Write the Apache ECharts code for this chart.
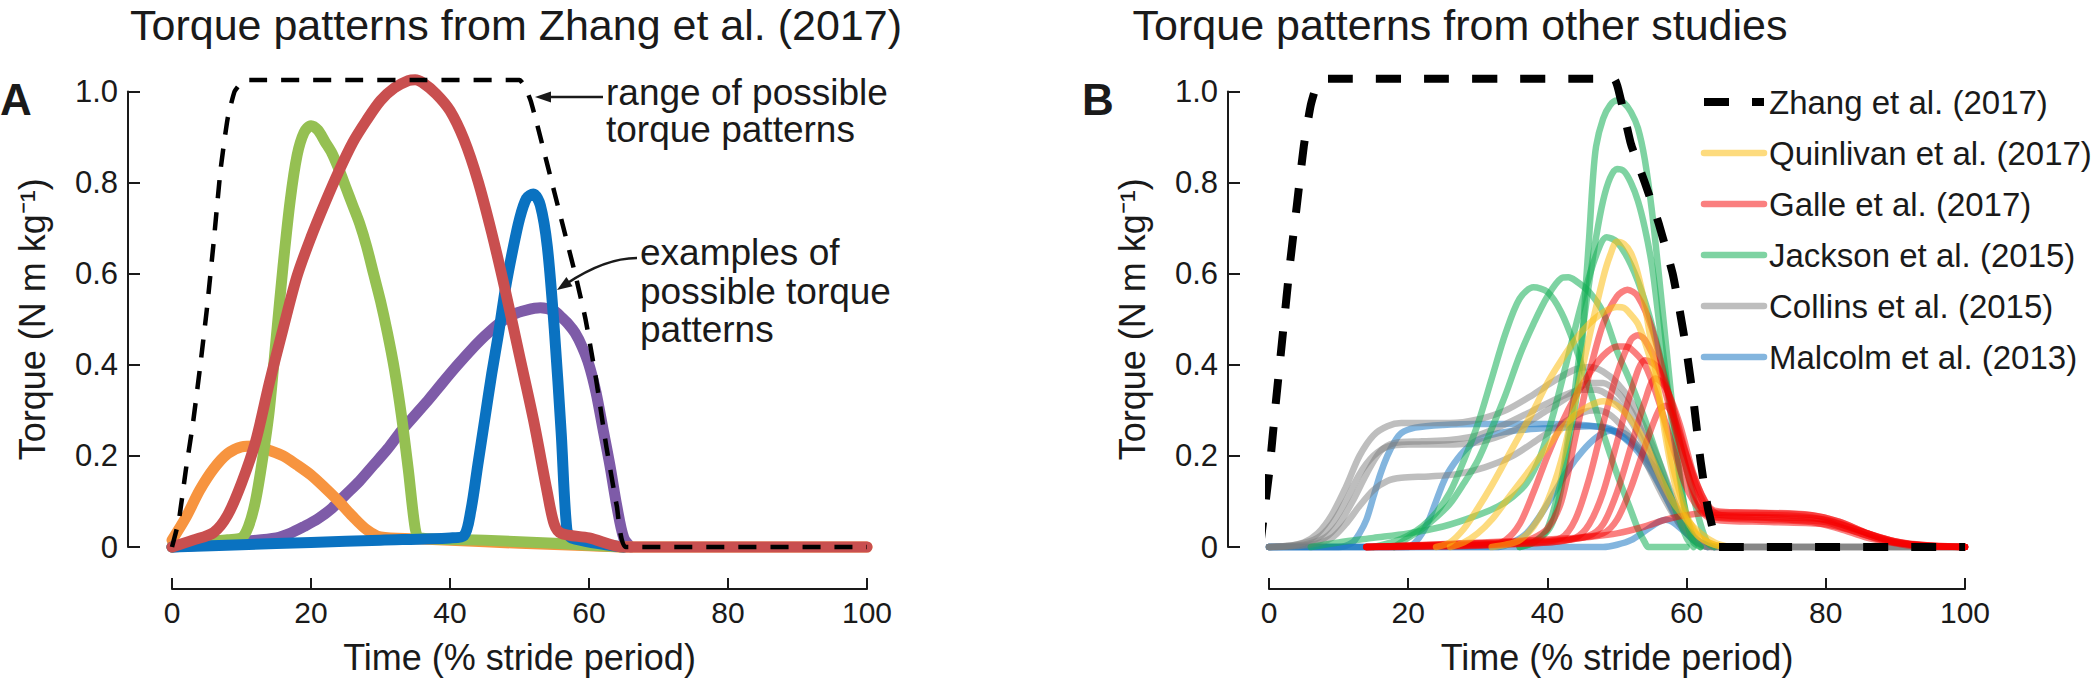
<!DOCTYPE html>
<html><head><meta charset="utf-8">
<script src="https://cdn.jsdelivr.net/npm/echarts@6/dist/echarts.min.js"></script>
<style>html,body{margin:0;padding:0;background:#fff}#c{width:2100px;height:687px}</style>
</head><body><div id="c"></div>
<script>
// ---------- tick values ----------
const xTicks = [0, 20, 40, 60, 80, 100];
const yTicks = [0, 0.2, 0.4, 0.6, 0.8, 1.0];

// ---------- Panel A: Zhang et al. (2017) ----------
const rangeA = [[0,0],[1,0.06],[2,0.17],[3,0.27],[4,0.39],[5,0.52],[6,0.67],[7,0.83],[8,0.94],[9,1.0],[10,1.02],[11,1.025],[50,1.025],[50.8,1.01],[51.6,0.98],[52.5,0.93],[54,0.84],[56,0.72],[58,0.6],[59.5,0.5],[61,0.37],[62.5,0.22],[64,0.09],[65.3,0],[100,0]];
const orangeA = [[0,0.015],[2,0.065],[4,0.125],[6,0.172],[8,0.205],[10,0.22],[12,0.222],[14,0.212],[16,0.2],[18,0.18],[20,0.158],[22,0.13],[24,0.1],[26,0.067],[28,0.038],[30,0.022],[35,0.018],[40,0.015],[50,0.008],[60,0.003],[65,0],[100,0]];
const greenA = [[0,0],[4,0.01],[8,0.016],[10,0.02],[11,0.045],[12,0.1],[13,0.19],[14,0.3],[15,0.46],[16,0.62],[17,0.76],[18,0.86],[19,0.91],[20,0.925],[21,0.915],[22,0.89],[23,0.865],[24,0.83],[25,0.79],[26,0.75],[27,0.71],[28,0.66],[29,0.6],[30,0.54],[31,0.47],[32,0.39],[33,0.29],[34,0.17],[35,0.04],[35.6,0.02],[45,0.015],[55,0.008],[65,0]];
const redA = [[0,0],[3,0.015],[6,0.032],[8,0.07],[10,0.14],[12,0.23],[14,0.36],[16,0.48],[18,0.595],[20,0.68],[22,0.755],[24,0.825],[26,0.888],[28,0.937],[30,0.98],[32,1.008],[34,1.024],[35,1.026],[36,1.02],[38,0.995],[40,0.958],[42,0.895],[44,0.805],[46,0.69],[48,0.56],[50,0.42],[52,0.28],[54,0.12],[55,0.05],[56,0.03],[60,0.02],[65,0],[100,0]];
const blueA = [[0,0],[10,0.005],[20,0.01],[30,0.015],[40,0.02],[42,0.025],[43,0.08],[44,0.18],[45,0.28],[46,0.38],[47,0.47],[48,0.57],[49,0.65],[50,0.72],[51,0.765],[52,0.775],[53,0.75],[54,0.66],[55,0.48],[56,0.25],[56.8,0.04],[57.5,0.02],[65,0]];
const purpleA = [[0,0],[5,0.005],[10,0.012],[15,0.02],[17,0.03],[19,0.045],[21,0.062],[23,0.085],[25,0.115],[27,0.145],[29,0.18],[31,0.215],[33,0.255],[35,0.29],[37,0.325],[39,0.362],[41,0.398],[43,0.432],[45,0.463],[47,0.49],[49,0.51],[51,0.52],[53,0.525],[55,0.518],[56,0.505],[57,0.49],[58,0.47],[59,0.44],[60,0.4],[61,0.34],[62,0.26],[63,0.18],[64,0.09],[65,0.02],[66,0]];

// ---------- Panel B: other studies ----------
const zhangB = [[-1.3,0],[0,0.16],[1,0.32],[2,0.47],[3,0.62],[4,0.75],[5,0.88],[6,0.97],[7,1.02],[8,1.028],[49.5,1.028],[50.5,0.985],[52,0.885],[54,0.8],[56,0.71],[58,0.6],[59,0.52],[60,0.43],[61,0.32],[62,0.19],[63,0.09],[64,0.025],[64.6,0],[100,0]];

const quin1 = [[32,0],[34,0.005],[36,0.015],[38,0.045],[40,0.1],[42,0.19],[44,0.32],[46,0.46],[48,0.59],[49,0.64],[50,0.67],[51,0.665],[52,0.645],[53,0.6],[54,0.53],[55,0.44],[56,0.34],[57,0.24],[58,0.16],[59,0.1],[60,0.06],[61,0.035],[62,0.02],[64,0.005],[66,0]];
const quin2 = [[24,0],[26,0.01],[28,0.04],[30,0.085],[32,0.135],[34,0.19],[36,0.245],[38,0.3],[40,0.36],[42,0.41],[44,0.455],[46,0.49],[48,0.515],[50,0.527],[51,0.525],[52,0.51],[53,0.49],[54,0.45],[55,0.4],[56,0.33],[57,0.26],[58,0.18],[59,0.12],[60,0.07],[61,0.04],[62,0.02],[64,0.005],[66,0]];
const quin3 = [[26,0],[28,0.01],[30,0.03],[32,0.06],[34,0.1],[36,0.14],[38,0.18],[40,0.22],[42,0.26],[44,0.29],[46,0.31],[48,0.32],[50,0.31],[52,0.28],[54,0.23],[56,0.16],[58,0.1],[60,0.06],[62,0.03],[64,0.01],[66,0]];

const galle1 = [[14,0],[20,0.003],[30,0.008],[36,0.012],[38,0.02],[40,0.04],[42,0.1],[44,0.24],[46,0.38],[48,0.49],[50,0.55],[51.5,0.565],[53,0.55],[55,0.48],[57,0.36],[59,0.23],[61,0.12],[63,0.07],[66,0.065],[70,0.065],[75,0.06],[80,0.055],[83,0.04],[86,0.025],[90,0.01],[95,0.002],[100,0]];
const galle2 = [[14,0],[30,0.005],[38,0.01],[42,0.02],[44,0.06],[46,0.15],[48,0.27],[50,0.38],[52,0.455],[53,0.465],[54,0.455],[56,0.39],[58,0.28],[60,0.17],[62,0.09],[64,0.065],[70,0.06],[78,0.055],[82,0.04],[86,0.02],[90,0.008],[94,0],[100,0]];
const galle3 = [[14,0],[32,0.005],[34,0.015],[36,0.05],[38,0.12],[40,0.2],[42,0.27],[44,0.33],[46,0.38],[48,0.42],[50,0.44],[51,0.44],[52,0.435],[54,0.4],[56,0.32],[58,0.22],[60,0.13],[62,0.08],[64,0.06],[72,0.055],[80,0.05],[84,0.035],[88,0.015],[92,0.005],[100,0]];
const galle4 = [[14,0],[40,0.01],[44,0.02],[46,0.05],[48,0.12],[50,0.23],[52,0.34],[54,0.41],[55,0.405],[56,0.39],[58,0.31],[60,0.2],[62,0.11],[64,0.07],[72,0.07],[78,0.065],[82,0.05],[86,0.03],[90,0.012],[94,0.003],[100,0]];
const galle5 = [[14,0],[42,0.015],[46,0.025],[48,0.05],[50,0.12],[52,0.22],[54,0.32],[55.5,0.37],[57,0.35],[59,0.27],[61,0.16],[63,0.09],[65,0.07],[74,0.065],[80,0.06],[84,0.04],[88,0.02],[92,0.006],[100,0]];
const galle6 = [[14,0],[44,0.02],[48,0.03],[50,0.06],[52,0.13],[54,0.22],[56,0.3],[57,0.31],[58,0.29],[60,0.2],[62,0.12],[64,0.08],[70,0.075],[78,0.07],[82,0.055],[86,0.03],[90,0.01],[100,0]];
const galle7 = [[14,0],[30,0.003],[40,0.01],[45,0.02],[50,0.03],[54,0.045],[57,0.06],[60,0.07],[64,0.075],[70,0.075],[78,0.07],[82,0.055],[86,0.03],[90,0.012],[95,0.003],[100,0]];

const jack1 = [[36,0],[38,0.01],[40,0.035],[41,0.065],[42,0.13],[43,0.22],[44,0.31],[45,0.45],[45.5,0.57],[46,0.68],[46.5,0.8],[47,0.88],[48,0.94],[49,0.97],[50,0.98],[51,0.975],[52,0.955],[53,0.92],[54,0.85],[55,0.74],[56,0.6],[57,0.45],[58,0.3],[59,0.16],[60,0.06],[61,0.01],[62,0]];
const jack2 = [[36,0],[38,0.01],[40,0.04],[42,0.15],[43,0.24],[44,0.35],[45,0.47],[46,0.58],[47,0.68],[48,0.76],[49,0.81],[50,0.83],[51,0.825],[52,0.8],[53,0.76],[54,0.7],[55,0.62],[56,0.5],[57,0.38],[58,0.26],[59,0.15],[60,0.07],[61,0.02],[62,0]];
const jack3 = [[6,0],[10,0.01],[15,0.02],[20,0.03],[25,0.045],[30,0.07],[33,0.09],[35,0.11],[37,0.14],[39,0.2],[41,0.3],[43,0.42],[45,0.54],[47,0.64],[48.5,0.68],[50,0.67],[52,0.62],[54,0.54],[56,0.43],[58,0.3],[60,0.17],[62,0.05],[63,0.01],[64,0]];
const jack4 = [[15,0],[18,0.012],[20,0.025],[22,0.045],[24,0.075],[26,0.12],[28,0.19],[30,0.27],[32,0.37],[34,0.47],[36,0.545],[38,0.57],[40,0.56],[42,0.515],[44,0.44],[46,0.35],[48,0.25],[50,0.16],[52,0.08],[53,0.04],[54,0.01],[54.5,0],[60,0]];
const jack5 = [[18,0],[20,0.02],[22,0.04],[24,0.065],[26,0.095],[28,0.14],[30,0.19],[32,0.26],[34,0.335],[36,0.42],[38,0.49],[40,0.55],[42,0.59],[43,0.592],[44,0.585],[46,0.56],[48,0.515],[50,0.43],[52,0.36],[54,0.28],[56,0.19],[58,0.1],[60,0.02],[61,0]];

const coll1 = [[0,0],[3,0.003],[5,0.01],[7,0.03],[9,0.07],[11,0.13],[13,0.2],[15,0.245],[17,0.265],[19,0.272],[22,0.272],[26,0.272],[30,0.28],[34,0.3],[38,0.335],[41,0.365],[44,0.39],[46,0.395],[48,0.385],[50,0.36],[52,0.32],[54,0.26],[56,0.19],[58,0.11],[60,0.04],[62,0.01],[64,0],[100,0]];
const coll2 = [[0,0],[5,0.005],[8,0.02],[10,0.05],[12,0.1],[14,0.16],[16,0.21],[18,0.228],[22,0.232],[26,0.235],[30,0.245],[34,0.27],[38,0.3],[42,0.33],[45,0.345],[47,0.345],[49,0.33],[51,0.3],[53,0.25],[55,0.19],[57,0.12],[59,0.06],[61,0.02],[63,0],[100,0]];
const coll3 = [[0,0],[6,0.005],[9,0.02],[11,0.05],[13,0.09],[15,0.125],[17,0.145],[19,0.152],[23,0.155],[27,0.16],[31,0.175],[35,0.2],[39,0.24],[42,0.27],[45,0.295],[47,0.3],[49,0.29],[51,0.26],[53,0.22],[55,0.16],[57,0.1],[59,0.05],[61,0.015],[63,0],[100,0]];
const coll4 = [[0,0],[4,0.005],[7,0.02],[9,0.05],[11,0.1],[13,0.16],[15,0.2],[17,0.22],[20,0.225],[25,0.225],[30,0.23],[35,0.255],[40,0.3],[43,0.33],[46,0.36],[48,0.36],[50,0.34],[52,0.3],[54,0.24],[56,0.17],[58,0.1],[60,0.04],[62,0.01],[64,0],[100,0]];

const malc1 = [[0,0],[10,0],[12,0.01],[13,0.03],[14,0.06],[15,0.11],[16,0.16],[17,0.2],[18,0.23],[19,0.25],[21,0.262],[25,0.268],[30,0.27],[35,0.27],[40,0.27],[45,0.268],[48,0.262],[50,0.25],[52,0.23],[54,0.2],[56,0.16],[58,0.1],[60,0.045],[62,0.01],[64,0]];
const malc2 = [[0,0],[20,0],[21,0.01],[22,0.03],[23,0.06],[24,0.1],[25,0.14],[26,0.17],[28,0.21],[30,0.235],[33,0.25],[37,0.258],[42,0.262],[46,0.265],[49,0.26],[51,0.24],[53,0.21],[55,0.165],[57,0.11],[59,0.055],[61,0.015],[63,0]];
const malc3 = [[0,0],[48,0],[50,0.005],[52,0.015],[54,0.035],[56,0.055],[57,0.06],[58,0.055],[60,0.03],[62,0.01],[64,0]];
const malc4 = [[0,0],[33,0],[35,0.01],[37,0.03],[39,0.07],[41,0.12],[43,0.17],[45,0.21],[47,0.24],[49,0.255],[51,0.25],[53,0.22],[55,0.17],[57,0.11],[59,0.05],[61,0.015],[63,0]];

const studyNames = ['Zhang et al. (2017)','Quinlivan et al. (2017)','Galle et al. (2017)','Jackson et al. (2015)','Collins et al. (2015)','Malcolm et al. (2013)'];

// ---------- styling ----------
const FONT = '"Liberation Sans", Arial, Helvetica, sans-serif';
const INK = '#1a1a1a';
const colA = {orange:'#F7943F', green:'#95C052', red:'#C94F4F', blue:'#0A72C1', purple:'#7E5BA8'};
const colB = {quin:'rgba(252,190,20,0.55)', galle:'rgba(245,0,0,0.5)', jack:'rgba(20,175,85,0.55)', coll:'rgba(125,125,125,0.5)', malc:'rgba(30,120,195,0.55)'};

function solid(name, data, color, width, gi, z) {
  return {type:'line', name, data, xAxisIndex:gi, yAxisIndex:gi, symbol:'none', smooth:0.3, clip:false, z,
    lineStyle:{color, width, cap:'round', join:'round'}, itemStyle:{color}, emphasis:{disabled:true}, silent:true, animation:false};
}
function dashed(name, data, width, dash, gi, z) {
  return {type:'line', name, data, xAxisIndex:gi, yAxisIndex:gi, symbol:'none', smooth:0.15, clip:false, z,
    lineStyle:{color:'#000', width, type:dash, cap:'butt', join:'round'}, itemStyle:{color:'#000'}, emphasis:{disabled:true}, silent:true, animation:false};
}

const series = [
  solid('A purple', purpleA, colA.purple, 11, 0, 2),
  solid('A orange', orangeA, colA.orange, 11, 0, 2),
  solid('A green', greenA, colA.green, 11, 0, 2),
  solid('A blue', blueA, colA.blue, 11, 0, 2),
  solid('A red', redA, colA.red, 11, 0, 2),
  dashed('A range', rangeA, 4.5, [18,14], 0, 3),
];
[malc1,malc2,malc3,malc4].forEach(d => series.push(solid(studyNames[5], d, colB.malc, 6.5, 1, 2)));
[coll1,coll2,coll3,coll4].forEach(d => series.push(solid(studyNames[4], d, colB.coll, 6.5, 1, 2)));
[jack1,jack2,jack3,jack4,jack5].forEach(d => series.push(solid(studyNames[3], d, colB.jack, 6.5, 1, 2)));
[galle1,galle2,galle3,galle4,galle5,galle6,galle7].forEach(d => series.push(solid(studyNames[2], d, colB.galle, 6.5, 1, 2)));
[quin1,quin2,quin3].forEach(d => series.push(solid(studyNames[1], d, colB.quin, 6.5, 1, 2)));
series.push(dashed(studyNames[0], zhangB, 8, [25,23], 1, 3));

function xAx(gi) {
  return {type:'value', gridIndex:gi, min:xTicks[0], max:xTicks[xTicks.length-1], interval:xTicks[1]-xTicks[0], offset:42,
    axisLine:{show:true, onZero:false, lineStyle:{color:INK, width:2}}, axisTick:{show:true, inside:true, length:11, lineStyle:{color:INK, width:2}},
    axisLabel:{fontSize:30, color:INK, fontFamily:FONT, margin:8}, splitLine:{show:false},
    name:'Time (% stride period)', nameLocation:'middle', nameGap:50, nameTextStyle:{fontSize:36, color:INK, fontFamily:FONT}};
}
function yAx(gi, off) {
  return {type:'value', gridIndex:gi, min:yTicks[0], max:yTicks[yTicks.length-1], interval:0.2, offset:off,
    axisLine:{show:true, onZero:false, lineStyle:{color:INK, width:2}}, axisTick:{show:true, inside:true, length:12, lineStyle:{color:INK, width:2}},
    axisLabel:{fontSize:31, color:INK, fontFamily:FONT, margin:10, formatter:v => v === 0 ? '0' : v.toFixed(1)}, splitLine:{show:false},
    name:'Torque (N m kg⁻¹)', nameLocation:'middle', nameGap:78, nameTextStyle:{fontSize:36, color:INK, fontFamily:FONT}};
}

function txt(x, y, text, size, opts) {
  return {type:'text', x, y, silent:true, style:Object.assign({text, fill:INK, font:size+'px '+FONT, textAlign:'left', textVerticalAlign:'middle', align:'left', verticalAlign:'middle'}, opts||{})};
}

const graphics = [
  txt(516, 25, 'Torque patterns from Zhang et al. (2017)', 43, {textAlign:'center', align:'center'}),
  txt(1460, 25, 'Torque patterns from other studies', 43, {textAlign:'center', align:'center'}),
  txt(0, 99, 'A', 44, {font:'bold 44px '+FONT}),
  txt(1082, 99, 'B', 44, {font:'bold 44px '+FONT}),
  txt(606, 92, 'range of possible', 37),
  txt(606, 129, 'torque patterns', 37),
  txt(640, 252, 'examples of', 37),
  txt(640, 291, 'possible torque', 37),
  txt(640, 329, 'patterns', 37),
  {type:'line', silent:true, shape:{x1:603, y1:97, x2:548, y2:97}, style:{stroke:INK, lineWidth:2.5}},
  {type:'polygon', silent:true, shape:{points:[[535,97],[551,91.5],[551,102.5]]}, style:{fill:INK}},
  {type:'bezierCurve', silent:true, shape:{x1:637, y1:258, cpx1:615, cpy1:258, cpx2:590, cpy2:268, x2:566, y2:284}, style:{stroke:INK, lineWidth:2.5, fill:'none'}},
  {type:'polygon', silent:true, shape:{points:[[557,290],[572.6,286.2],[566.4,277]]}, style:{fill:INK}},
];

const chart = echarts.init(document.getElementById('c'), null, {renderer:'svg'});
chart.setOption({
  animation:false,
  backgroundColor:'#fff',
  textStyle:{fontFamily:FONT},
  grid:[{left:172, width:695, top:91.5, height:455.5}, {left:1269, width:696, top:91.5, height:455.5}],
  xAxis:[xAx(0), xAx(1)],
  yAxis:[yAx(0,44), yAx(1,41)],
  legend:{data:studyNames, orient:'vertical', left:1695, top:80, itemWidth:60, itemHeight:2, itemGap:17, selectedMode:false,
    itemStyle:{opacity:0}, lineStyle:{width:'inherit'},
    textStyle:{fontSize:33, color:INK, fontFamily:FONT, lineHeight:34}},
  graphic:graphics,
  series
});
</script></body></html>
